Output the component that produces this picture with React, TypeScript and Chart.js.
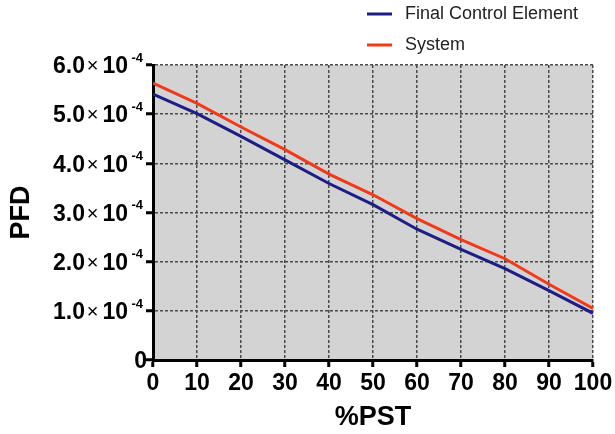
import React, { useEffect, useRef } from "react";
import { Chart, registerables } from "chart.js";

Chart.register(...registerables);

// ---- data ----
const pstPercent = [0, 10, 20, 30, 40, 50, 60, 70, 80, 90, 100];
const finalControlElement = [5.41e-4, 5.01e-4, 4.55e-4, 4.07e-4, 3.59e-4, 3.16e-4, 2.66e-4, 2.25e-4, 1.86e-4, 1.41e-4, 0.95e-4];
const systemPFD = [5.63e-4, 5.22e-4, 4.74e-4, 4.28e-4, 3.78e-4, 3.36e-4, 2.875e-4, 2.45e-4, 2.06e-4, 1.54e-4, 1.05e-4];
const seriesLabels = ["Final Control Element", "System"];
const seriesColors = ["#1d1d88", "#f03a1a"];
const yTickMantissa = ["0", "1.0", "2.0", "3.0", "4.0", "5.0", "6.0"];
const yTickExponent = "-4";

const FONT = "'Liberation Sans', Arial, Helvetica, sans-serif";

const bgPlugin = {
  id: "plotBg",
  beforeDraw(chart: any) {
    const { ctx, chartArea } = chart;
    ctx.save();
    ctx.fillStyle = "#d3d3d3";
    ctx.fillRect(chartArea.left, chartArea.top, chartArea.right - chartArea.left, chartArea.bottom - chartArea.top);
    ctx.restore();
  },
};

const yLabelPlugin = {
  id: "yLabels",
  afterDraw(chart: any) {
    const { ctx, chartArea } = chart;
    const scale = chart.scales.y;
    const axisX = chartArea.left;
    ctx.save();
    ctx.fillStyle = "#000";
    ctx.textBaseline = "alphabetic";
    scale.ticks.forEach((t: any, i: number) => {
      const py = scale.getPixelForValue(t.value);
      const base = py + 8.3;
      const mant = yTickMantissa[i];
      if (mant === undefined) return;
      if (mant === "0") {
        ctx.font = `bold 23px ${FONT}`;
        ctx.textAlign = "right";
        ctx.fillText("0", axisX - 6, base);
        return;
      }
      ctx.textAlign = "right";
      ctx.font = `bold 23px ${FONT}`;
      ctx.fillText(mant, axisX - 68, base);
      ctx.textAlign = "center";
      ctx.font = `20px ${FONT}`;
      ctx.fillText("×", axisX - 60.5, base - 1);
      ctx.textAlign = "right";
      ctx.font = `bold 23px ${FONT}`;
      ctx.fillText("10", axisX - 25, base);
      ctx.font = `bold 13px ${FONT}`;
      ctx.fillText(yTickExponent, axisX - 10, py - 3.3);
    });
    ctx.restore();
  },
};

const legendPlugin = {
  id: "customLegend",
  afterDraw(chart: any) {
    const { ctx } = chart;
    const rows = [14, 45];
    ctx.save();
    chart.data.datasets.forEach((ds: any, i: number) => {
      const y = rows[i];
      ctx.strokeStyle = ds.borderColor;
      ctx.lineWidth = 3;
      ctx.beginPath();
      ctx.moveTo(367, y);
      ctx.lineTo(392, y);
      ctx.stroke();
      ctx.fillStyle = "#222";
      ctx.font = `18px ${FONT}`;
      ctx.textAlign = "left";
      ctx.textBaseline = "middle";
      ctx.fillText(ds.label, 405, y);
    });
    ctx.restore();
  },
};

export default function App() {
  const canvasRef = useRef<HTMLCanvasElement | null>(null);

  useEffect(() => {
    if (!canvasRef.current) return;
    const gridCommon = {
      color: "#4a4a4a",
      lineWidth: 1.5,
      drawTicks: true,
      tickLength: 7,
      tickColor: "#000",
      tickWidth: 3,
      tickBorderDash: [],
    };
    const borderCommon = { display: true, color: "#000", width: 3, dash: [3, 2] };
    const chart = new Chart(canvasRef.current, {
      type: "line",
      data: {
        datasets: [
          {
            label: seriesLabels[0],
            data: pstPercent.map((x, i) => ({ x, y: finalControlElement[i] })),
            borderColor: seriesColors[0],
            backgroundColor: seriesColors[0],
            borderWidth: 3,
            pointRadius: 0,
            tension: 0,
          },
          {
            label: seriesLabels[1],
            data: pstPercent.map((x, i) => ({ x, y: systemPFD[i] })),
            borderColor: seriesColors[1],
            backgroundColor: seriesColors[1],
            borderWidth: 3,
            pointRadius: 0,
            tension: 0,
          },
        ],
      },
      options: {
        responsive: false,
        animation: false,
        layout: { padding: { top: 65, right: 22, bottom: 0, left: 0 } },
        plugins: { legend: { display: false }, tooltip: { enabled: false } },
        scales: {
          x: {
            type: "linear",
            min: 0,
            max: 100,
            afterFit: (scale: any) => {
              scale.paddingRight = 0;
            },
            ticks: {
              stepSize: 10,
              color: "#000",
              padding: 5,
              maxRotation: 0,
              minRotation: 0,
              autoSkip: false,
              font: { family: FONT, size: 23, weight: "bold", lineHeight: 1 },
            },
            grid: gridCommon as any,
            border: borderCommon,
            title: {
              display: true,
              text: "%PST",
              color: "#000",
              font: { family: FONT, size: 27, weight: "bold" },
              padding: { top: 1.6, bottom: 0 },
            },
          },
          y: {
            type: "linear",
            min: 0,
            max: 6e-4,
            ticks: { stepSize: 1e-4, display: false },
            grid: gridCommon as any,
            border: borderCommon,
            title: {
              display: true,
              text: "PFD",
              color: "#000",
              font: { family: FONT, size: 27, weight: "bold" },
              padding: { top: 5.3, bottom: 108.3 },
            },
          },
        },
      },
      plugins: [bgPlugin, yLabelPlugin, legendPlugin],
    } as any);
    return () => chart.destroy();
  }, []);

  return (
    <div style={{ position: "fixed", left: 0, top: 0, width: 615, height: 434, background: "#fff" }}>
      <canvas ref={canvasRef} width={615} height={434} style={{ display: "block" }} />
    </div>
  );
}
